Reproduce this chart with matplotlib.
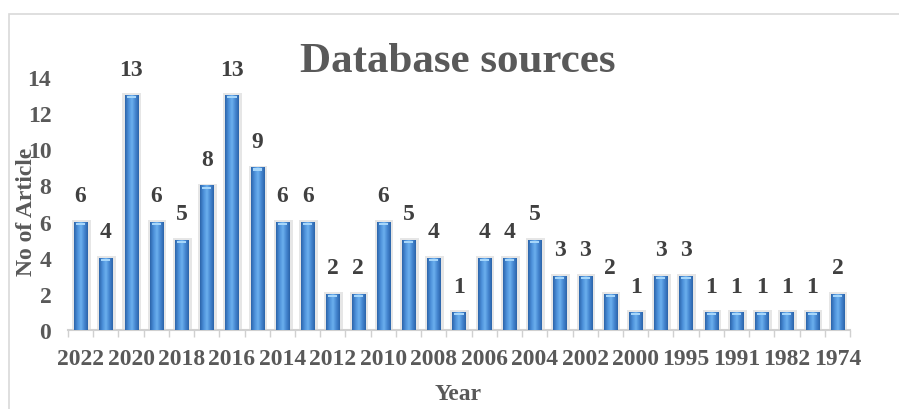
import matplotlib
matplotlib.use("Agg")
import matplotlib.pyplot as plt
import numpy as np
from matplotlib.patches import Rectangle
from matplotlib.colors import LinearSegmentedColormap

years = ["2022", "2021", "2020", "2019", "2018", "2017", "2016", "2015", "2014", "2013",
         "2012", "2011", "2010", "2009", "2008", "2007", "2006", "2005", "2004", "2003",
         "2002", "2001", "2000", "1997", "1995", "1993", "1991", "1985", "1982", "1979", "1974"]
articles = [6, 4, 13, 6, 5, 8, 13, 9, 6, 6,
            2, 2, 6, 5, 4, 1, 4, 4, 5, 3,
            3, 2, 1, 3, 3, 1, 1, 1, 1, 1, 2]
yticks = [0, 2, 4, 6, 8, 10, 12, 14]

title = "Database sources"
xlabel = "Year"
ylabel = "No of Article"

plt.rcParams['font.family'] = ['Liberation Serif', 'DejaVu Serif']
txt = "#595959"
lbl = "#404040"

fig = plt.figure(figsize=(8.99, 4.10), dpi=100)
# outer chart border
fig.patches.append(Rectangle((9/899, -0.05), 1.0, 1 - 15/410 + 0.05, transform=fig.transFigure,
                             fill=False, edgecolor="#d9d9d9", linewidth=1.2))

ax = fig.add_axes([68/899, 1 - 331/410, (850-68)/899, (331-78)/410])
x = np.arange(len(years))
w = 0.52

cmap = LinearSegmentedColormap.from_list("cyl", ["#2c64aa", "#4b8fd8", "#6cb0ee", "#4586d0", "#2c64aa"])
grad = np.linspace(0, 1, 64).reshape(1, -1)

for xi, v in zip(x, articles):
    # soft shadow
    ax.add_patch(Rectangle((xi - w/2 - 0.08, 0), w + 0.22, v + 0.1, facecolor="#e6e6e6",
                           edgecolor="none", zorder=1))
    r = Rectangle((xi - w/2, 0), w, v, facecolor="#3f7cc4", edgecolor="none", zorder=2)
    ax.add_patch(r)
    im = ax.imshow(grad, cmap=cmap, aspect="auto", extent=(xi - w/2, xi + w/2, 0, v), zorder=3)
    im.set_clip_path(r)
    # light top cap
    ax.add_patch(Rectangle((xi - w/2 + 0.08, v - 0.18), w - 0.16, 0.12, facecolor="#a6d6fa",
                           edgecolor="none", zorder=4))
    ax.text(xi, v + 0.85, str(v), ha="center", va="bottom", fontsize=17, fontweight="bold",
            color=lbl, zorder=5)

ax.set_xlim(-0.5, len(years) - 0.5)
ax.set_ylim(0, 14)
ax.set_yticks(yticks)
ax.set_yticklabels([str(t) for t in yticks], fontsize=17, fontweight="bold", color=txt)
ax.set_xticks(x[::2])
ax.set_xticklabels(years[::2], fontsize=17, fontweight="bold", color=txt)
ax.set_xticks(np.arange(-0.5, len(years), 1.0), minor=True)
ax.tick_params(axis="x", which="major", length=0, pad=13)
ax.tick_params(axis="x", which="minor", length=5, color="#d0d0d0", width=1)
ax.tick_params(axis="y", length=0, pad=12)
for s in ["top", "right", "left"]:
    ax.spines[s].set_visible(False)
ax.spines["bottom"].set_color("#d0d0d0")
ax.spines["bottom"].set_linewidth(1.5)
ax.set_facecolor("none")

fig.text(458/899, 1 - 62/410, title, ha="center", va="center", fontsize=31,
         fontweight="bold", color=txt)
fig.text(458/899, 1 - 395/410, xlabel, ha="center", va="center", fontsize=17,
         fontweight="bold", color=txt)
fig.text(27/899, 1 - 212/410, ylabel, ha="center", va="center", rotation=90, fontsize=17,
         fontweight="bold", color=txt)

fig.savefig("out.png", dpi=100)
